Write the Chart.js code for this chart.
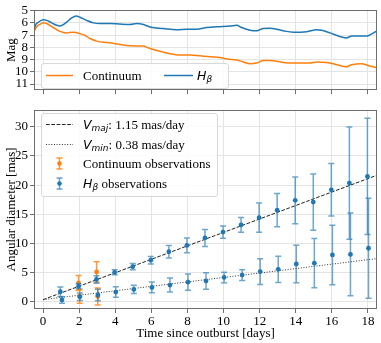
<!DOCTYPE html>
<html><head><meta charset="utf-8">
<script src="https://cdn.jsdelivr.net/npm/chart.js@4"></script>
<style>
html,body{margin:0;padding:0;background:#fff;}
#wrap{position:relative;width:381px;height:343px;overflow:hidden;font-family:"Liberation Serif","DejaVu Serif",serif;}
canvas{position:absolute;left:0;}
#c1{top:0;}
#c2{top:100px;}
.leg{position:absolute;background:rgba(255,255,255,0.85);border:1px solid #d9d9d9;border-radius:3px;box-sizing:border-box;}
.it{position:absolute;font-size:13px;line-height:15px;white-space:nowrap;color:#000;}
.m{font-family:"DejaVu Sans";font-style:italic;font-size:12.5px;}
.m sub{font-size:9px;position:relative;top:2px;vertical-align:baseline;}
#ov{position:absolute;left:0;top:0;pointer-events:none;}
</style></head>
<body>
<div id="wrap">
<canvas id="c1" width="381" height="100"></canvas>
<canvas id="c2" width="381" height="243"></canvas>
<div class="leg" style="left:41px;top:63px;width:188px;height:26px"></div>
<div class="leg" style="left:41px;top:113px;width:177px;height:84px"></div>
<svg id="ov" width="381" height="343">
  <line x1="46" y1="75.5" x2="73" y2="75.5" stroke="#ff7f0e" stroke-width="1.5"/>
  <line x1="164" y1="75.5" x2="193" y2="75.5" stroke="#1f77b4" stroke-width="1.5"/>
  <line x1="46" y1="124.5" x2="73" y2="124.5" stroke="#222" stroke-width="1" stroke-dasharray="3.7 1.6"/>
  <line x1="46" y1="144.5" x2="73" y2="144.5" stroke="#333" stroke-width="1" stroke-dasharray="1 1.65"/>
  <g stroke="rgba(255,127,14,0.8)" stroke-width="1.5">
    <line x1="59.5" y1="158" x2="59.5" y2="169"/><line x1="56.5" y1="158" x2="62.5" y2="158"/><line x1="56.5" y1="169" x2="62.5" y2="169"/>
  </g>
  <circle cx="59.5" cy="163.5" r="2.3" fill="#ff7f0e"/>
  <g stroke="rgba(31,119,180,0.65)" stroke-width="1.5">
    <line x1="59.5" y1="178" x2="59.5" y2="189"/><line x1="56.5" y1="178" x2="62.5" y2="178"/><line x1="56.5" y1="189" x2="62.5" y2="189"/>
  </g>
  <circle cx="59.5" cy="183.5" r="2.3" fill="#1f77b4"/>
</svg>
<div class="it" style="left:83px;top:68px">Continuum</div>
<div class="it" style="left:197px;top:68px"><span class="m">H<sub>β</sub></span></div>
<div class="it" style="left:83px;top:117px"><span class="m">V<sub>maj</sub></span>: 1.15 mas/day</div>
<div class="it" style="left:83px;top:137px"><span class="m">V<sub>min</sub></span>: 0.38 mas/day</div>
<div class="it" style="left:83px;top:156px">Continuum observations</div>
<div class="it" style="left:83px;top:176px"><span class="m">H<sub>β</sub></span> observations</div>
</div>
<script>
// ---- data ----
const dayTicks = [0, 2, 4, 6, 8, 10, 12, 14, 16, 18];
const magTicks = [5, 6, 7, 8, 9, 10, 11];
const diamTicks = [0, 5, 10, 15, 20, 25, 30];

const hbCurveT = [-0.5,-0.44,-0.26,0.02,0.2,0.48,0.76,0.94,1.22,1.59,1.83,2.05,2.42,2.79,3.16,3.71,4.27,4.82,5.19,5.56,5.93,6.66,7.41,7.96,8.52,9.07,9.62,10.36,10.73,11.0,11.47,11.84,12.2,12.58,12.95,13.31,13.87,14.61,15.16,15.44,15.9,16.36,16.79,17.1,17.56,17.93,18.21,18.5];
const hbCurveMag = [6.72,6.26,5.95,5.75,5.8,6.0,6.2,6.26,6.05,5.6,5.44,5.54,5.8,6.0,6.05,6.05,6.1,6.13,6.05,6.13,6.34,6.46,6.57,6.52,6.52,6.38,6.31,6.26,6.2,6.38,6.6,6.65,6.46,6.44,6.52,6.65,6.77,6.72,6.57,6.6,6.82,7.08,7.23,7.08,7.08,7.08,6.9,6.65];

const contCurveT = [-0.5,-0.35,-0.17,0.02,0.2,0.57,0.94,1.31,1.68,2.05,2.33,2.6,2.98,3.34,3.71,4.08,4.45,4.82,5.19,5.56,5.75,6.3,7.04,7.59,8.14,8.7,9.25,9.81,10.18,10.73,11.1,11.47,11.84,12.2,12.58,12.95,13.31,13.87,14.42,14.79,15.16,15.72,16.27,16.79,17.1,17.66,18.02,18.5];
const contCurveMag = [6.72,6.3,6.13,6.0,6.05,6.38,6.7,6.82,6.77,6.88,7.03,7.28,7.49,7.59,7.62,7.72,7.8,7.86,7.9,7.88,8.0,8.25,8.52,8.62,8.62,8.69,8.77,8.82,8.95,9.03,9.2,9.34,9.28,9.08,9.08,9.13,9.23,9.28,9.28,9.28,9.2,9.23,9.42,9.59,9.42,9.34,9.49,9.67];

const hbMajT = [0.96,1.97,2.96,3.97,4.97,5.97,6.97,7.97,8.97,9.97,10.97,11.97,12.97,13.97,14.97,15.97,16.97,17.97];
const hbMaj = [1.75,2.7,3.85,5.08,6.04,7.16,8.6,9.68,10.96,11.96,13.2,14.43,15.72,17.4,17.1,19.2,20.35,21.5];
const hbMajErr = [0.8,0.45,0.65,0.42,0.53,0.64,1.05,1.26,1.45,1.05,1.26,2.5,2.85,4.0,4.8,4.5,9.6,9.95];
const hbMinT = [1.05,2.04,3.04,4.03,5.03,6.03,7.03,8.03,9.03,10.03,11.03,12.03,13.03,14.03,15.03,16.03,17.03,18.03];
const hbMin = [0.35,0.9,1.2,1.7,2.15,2.5,2.9,3.4,3.6,4.2,4.6,5.2,5.6,6.5,6.65,8.05,8.15,9.2];
const hbMinErr = [0.55,0.65,1.0,0.9,0.7,0.92,1.2,1.4,1.4,0.9,0.9,2.2,2.25,3.2,4.2,5.1,7.1,8.55];

const contMajT = [1.97, 2.97];
const contMaj = [3.25, 5.15];
const contMajErr = [1.3, 1.75];
const contMinT = [2.03, 3.03];
const contMin = [1.0, 0.95];
const contMinErr = [1.2, 1.45];

const fitT = [0, 18.5];
const majFit = [0.4, 21.7];
const minFit = [0.4, 7.43];

// ---- helpers ----
const BLUE = '#1f77b4', ORANGE = '#ff7f0e';
const FRAME = '#6e6e6e', GRID = '#e4e4e4';
const pts = (xs, ys) => xs.map((x, i) => ({x: x, y: ys[i]}));
Chart.defaults.font.family = "'Liberation Serif', 'DejaVu Serif', serif";
Chart.defaults.font.size = 13;
Chart.defaults.color = '#000';

const framePlugin = {
  id: 'frame',
  afterDraw(chart) {
    const a = chart.chartArea, ctx = chart.ctx;
    ctx.save();
    ctx.strokeStyle = FRAME; ctx.lineWidth = 1;
    ctx.strokeRect(Math.round(a.left) + 0.5, Math.round(a.top) + 0.5, Math.round(a.right - a.left) - 1, Math.round(a.bottom - a.top) - 1);
    ctx.restore();
  }
};
const errPlugin = {
  id: 'errbars',
  beforeDatasetDraw(chart, args) {
    const ds = chart.data.datasets[args.index];
    if (!ds.errs) return;
    const xs = chart.scales.x, ys = chart.scales.y, ctx = chart.ctx;
    ctx.save();
    ctx.strokeStyle = ds.errColor; ctx.lineWidth = 1.5;
    ds.data.forEach((p, i) => {
      const e = ds.errs[i];
      const px = xs.getPixelForValue(p.x);
      const y1 = ys.getPixelForValue(p.y + e), y2 = ys.getPixelForValue(p.y - e);
      ctx.beginPath();
      ctx.moveTo(px, y1); ctx.lineTo(px, y2);
      ctx.moveTo(px - 3, y1); ctx.lineTo(px + 3, y1);
      ctx.moveTo(px - 3, y2); ctx.lineTo(px + 3, y2);
      ctx.stroke();
    });
    ctx.restore();
  }
};
const setTicks = arr => (scale) => { scale.ticks = arr.map(v => ({value: v})); };
const gridOpts = {color: GRID, lineWidth: 1, tickLength: 4, tickColor: FRAME, tickWidth: 1};

// ---- top chart ----
new Chart(document.getElementById('c1'), {
  type: 'scatter',
  data: {datasets: [
    {data: pts(hbCurveT, hbCurveMag), showLine: true, borderColor: BLUE, borderWidth: 1.5, pointRadius: 0, cubicInterpolationMode: 'monotone'},
    {data: pts(contCurveT, contCurveMag), showLine: true, borderColor: ORANGE, borderWidth: 1.5, pointRadius: 0, cubicInterpolationMode: 'monotone'}
  ]},
  options: {
    responsive: false, animation: false, devicePixelRatio: 1,
    layout: {padding: {top: 10, right: 4, left: 0, bottom: 0}},
    plugins: {legend: {display: false}, tooltip: {enabled: false}},
    scales: {
      x: {type: 'linear', min: -0.5, max: 18.5, afterBuildTicks: setTicks(dayTicks),
          afterFit: s => { s.height = 5; },
          ticks: {display: false}, grid: gridOpts, border: {display: false}},
      y: {type: 'linear', reverse: true, min: 4.95, max: 11.5, afterBuildTicks: setTicks(magTicks),
          afterFit: s => { s.width = 34; },
          ticks: {padding: 2, autoSkip: false, font: {size: 13}},
          grid: gridOpts, border: {display: false},
          title: {display: true, text: 'Mag', font: {size: 13}, padding: {top: 4, bottom: 0}}}
    }
  },
  plugins: [framePlugin]
});

// ---- bottom chart ----
new Chart(document.getElementById('c2'), {
  type: 'scatter',
  data: {datasets: [
    {data: pts(hbMajT, hbMaj), errs: hbMajErr, errColor: 'rgba(31,119,180,0.65)', backgroundColor: BLUE, borderColor: BLUE, pointRadius: 2.4, borderWidth: 0},
    {data: pts(hbMinT, hbMin), errs: hbMinErr, errColor: 'rgba(31,119,180,0.65)', backgroundColor: BLUE, borderColor: BLUE, pointRadius: 2.4, borderWidth: 0},
    {data: pts(contMajT, contMaj), errs: contMajErr, errColor: 'rgba(255,127,14,0.8)', backgroundColor: ORANGE, borderColor: ORANGE, pointRadius: 2.4, borderWidth: 0},
    {data: pts(contMinT, contMin), errs: contMinErr, errColor: 'rgba(255,127,14,0.8)', backgroundColor: ORANGE, borderColor: ORANGE, pointRadius: 2.4, borderWidth: 0},
    {data: pts(fitT, majFit), showLine: true, borderColor: '#222', borderWidth: 1, borderDash: [3.7, 1.6], pointRadius: 0},
    {data: pts(fitT, minFit), showLine: true, borderColor: '#333', borderWidth: 1, borderDash: [1, 1.65], pointRadius: 0}
  ]},
  options: {
    responsive: false, animation: false, devicePixelRatio: 1,
    layout: {padding: {top: 6, right: 4, left: 0, bottom: 0}},
    plugins: {legend: {display: false}, tooltip: {enabled: false}},
    scales: {
      x: {type: 'linear', min: -0.5, max: 18.5, afterBuildTicks: setTicks(dayTicks),
          afterFit: s => { s.height = 34; },
          ticks: {padding: 1, autoSkip: false, maxRotation: 0, font: {size: 13}},
          grid: gridOpts, border: {display: false},
          title: {display: true, text: 'Time since outburst [days]', font: {size: 13}, padding: {top: 0, bottom: 2}}},
      y: {type: 'linear', min: -1.2, max: 32.9, afterBuildTicks: setTicks(diamTicks),
          afterFit: s => { s.width = 34; },
          ticks: {padding: 2, autoSkip: false, font: {size: 13}},
          grid: gridOpts, border: {display: false},
          title: {display: true, text: 'Angular diameter [mas]', font: {size: 13}, padding: {top: 4, bottom: 0}}}
    }
  },
  plugins: [framePlugin, errPlugin]
});
</script>
</body></html>
